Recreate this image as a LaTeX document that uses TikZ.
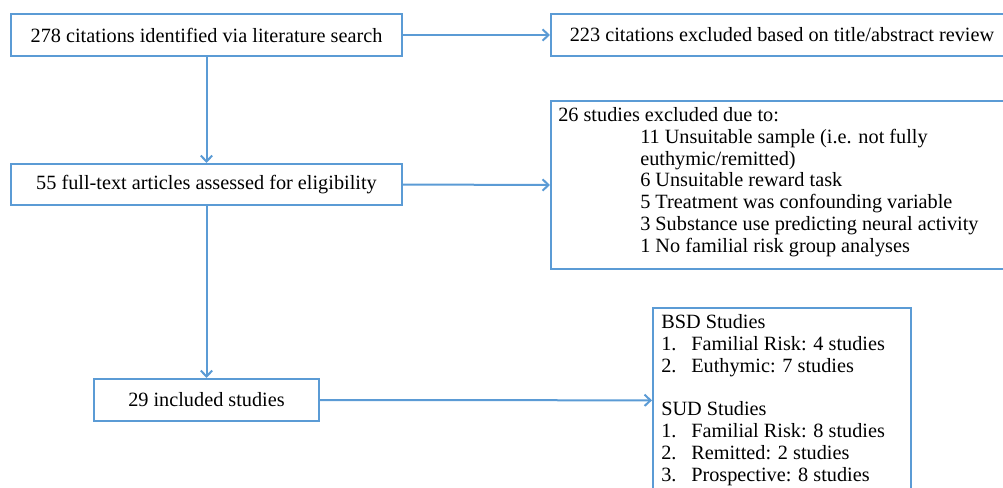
\documentclass[tikz,border=0pt]{standalone}
\usepackage{fontspec}
\setmainfont{Liberation Serif}
\usetikzlibrary{arrows.meta}
\definecolor{flowblue}{RGB}{91,155,213}
\tikzset{
  box/.style={draw=flowblue, line width=1.5pt, rectangle, inner sep=0pt, anchor=north west,
    font=\fontsize{15.2}{16.4}\selectfont},
  txt/.style={inner sep=0pt, anchor=north west, align=left, font=\fontsize{15.2}{16.4}\selectfont},
  arr/.style={draw=flowblue, line width=1.5pt, -{Straight Barb[length=4.5pt,width=8.5pt]}}
}
\begin{document}
\begin{tikzpicture}[x=0.75pt,y=-0.75pt]
\useasboundingbox (0,0) rectangle (1003,487);
\clip (0,0) rectangle (1003,487);
\node[box, minimum width=293.25pt, minimum height=31.5pt] (b1) at (10,13) {278 citations identified via literature search};
\node[box, minimum width=346.5pt, minimum height=31.5pt] (b2) at (550,13) {223 citations excluded based on title/abstract review};
\node[box, minimum width=293.25pt, minimum height=30.75pt] (b3) at (10,163) {55 full-text articles assessed for eligibility};
\node[box, minimum width=346.5pt, minimum height=126pt] (b4) at (550,100) {};
\node[txt] (t4) at (558,107) {26 studies excluded due to:\\
\hspace*{61.5pt}11 Unsuitable sample (i.e. not fully\\
\hspace*{61.5pt}euthymic/remitted)\\
\hspace*{61.5pt}6 Unsuitable reward task\\
\hspace*{61.5pt}5 Treatment was confounding variable\\
\hspace*{61.5pt}3 Substance use predicting neural activity\\
\hspace*{61.5pt}1 No familial risk group analyses};
\node[box, minimum width=168.75pt, minimum height=31.5pt] (b5) at (93,378) {29 included studies};
\node[box, minimum width=193.5pt, minimum height=150pt] (b6) at (652,307) {};
\node[txt] (t6) at (661,314) {BSD Studies\\
\makebox[22.5pt][l]{1.}Familial Risk: 4 studies\\
\makebox[22.5pt][l]{2.}Euthymic: 7 studies\\[16.4pt]
SUD Studies\\
\makebox[22.5pt][l]{1.}Familial Risk: 8 studies\\
\makebox[22.5pt][l]{2.}Remitted: 2 studies\\
\makebox[22.5pt][l]{3.}Prospective: 8 studies};
\draw[arr] (b1.east) -- (b2.west);
\draw[arr] (b1.south) -- (b3.north);
\draw[arr] (b3.east) -- (b4.west);
\draw[arr] (b3.south) -- (b5.north);
\draw[arr] (b5.east) -- ([yshift=-70pt]b6.north west);
\end{tikzpicture}
\end{document}
